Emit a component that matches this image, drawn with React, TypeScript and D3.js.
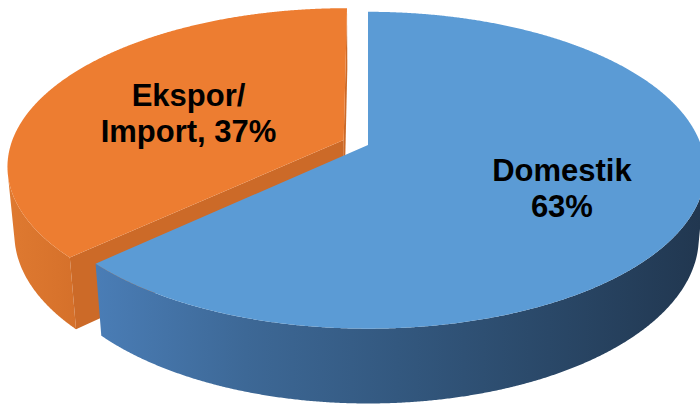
import React from "react";
import * as d3 from "d3";

// ---- data ----
const categories: string[] = ["Domestik", "Ekspor/Import"];
const values: number[] = [63, 37];

// ---- style / layout ----
const topColors = ["#5B9BD5", "#ED7D31"];
const wallStops = [
  ["#4a7db6", "#3d6896", "#33587f", "#2a4868", "#213750"],
  ["#df7a31", "#d8732c", "#cf6b27"],
];
const radialColors = ["#2f5278", "#cc6a28"];
const W = 700;
const H = 404;
const CX = 368;
const CY = 145;
const SCALE = 333;
const SIN_T = 0.4637;
const COS_T = Math.sqrt(1 - SIN_T * SIN_T);
const DIST = 5.564;
const THICK = 0.23;
const EXPLODE = [0, 0.08];
const LABEL_R = [0.61, 0.53];
const FONT_SIZE = 31;
const LINE_H = 36;

function project(x: number, z: number, h: number): [number, number] {
  const yp = h * COS_T + z * SIN_T;
  const zp = z * COS_T - h * SIN_T;
  const f = DIST / (DIST + zp);
  return [CX + SCALE * x * f, CY - SCALE * yp * f];
}

function fmtLines(name: string, pct: number): string[] {
  if (name.includes("/")) {
    const [a, b] = name.split("/");
    return [a + "/", `${b}, ${pct}%`];
  }
  return [name, `${pct}%`];
}

const camZ = -DIST * COS_T;

export default function App() {
  const pie = d3.pie<number>().sort(null).startAngle(0).endAngle(2 * Math.PI);
  const arcs = pie(values);
  const total = d3.sum(values);
  const line = d3.line<[number, number]>();

  const slices = arcs.map((a, i) => {
    const mid = (a.startAngle + a.endAngle) / 2;
    const ox = EXPLODE[i] * Math.sin(mid);
    const oz = EXPLODE[i] * Math.cos(mid);
    const n = Math.max(8, Math.ceil(((a.endAngle - a.startAngle) * 180) / Math.PI * 4));
    const angles = d3.range(n + 1).map((k) => a.startAngle + ((a.endAngle - a.startAngle) * k) / n);
    const rimTop = angles.map((t) => project(Math.sin(t) + ox, Math.cos(t) + oz, 0));
    const rimBot = angles.map((t) => project(Math.sin(t) + ox, Math.cos(t) + oz, -THICK));
    const cTop = project(ox, oz, 0);
    const cBot = project(ox, oz, -THICK);

    const topPath = line([cTop, ...rimTop]) + "Z";

    // visible outer wall runs
    const vis = angles.map((t) => {
      const px = Math.sin(t) + ox;
      const pz = Math.cos(t) + oz;
      return Math.sin(t) * (0 - px) + Math.cos(t) * (camZ - pz) > 0;
    });
    const wallPaths: string[] = [];
    let k = 0;
    while (k < angles.length) {
      if (!vis[k]) { k++; continue; }
      let j = k;
      while (j + 1 < angles.length && vis[j + 1]) j++;
      if (j > k) {
        const pts = [...rimTop.slice(k, j + 1), ...rimBot.slice(k, j + 1).reverse()];
        wallPaths.push(line(pts as [number, number][]) + "Z");
      }
      k = j + 1;
    }

    // radial faces
    const radialPaths: string[] = [];
    const faces: [number, number, number][] = [
      [a.startAngle, -Math.cos(a.startAngle), Math.sin(a.startAngle)],
      [a.endAngle, Math.cos(a.endAngle), -Math.sin(a.endAngle)],
    ];
    faces.forEach(([t, nx, nz]) => {
      const dot = nx * (0 - ox) + nz * (camZ - oz);
      if (dot > 1e-6) {
        const rT = project(Math.sin(t) + ox, Math.cos(t) + oz, 0);
        const rB = project(Math.sin(t) + ox, Math.cos(t) + oz, -THICK);
        radialPaths.push(line([cTop, rT, rB, cBot]) + "Z");
      }
    });

    const wallXs = wallPaths.length ? rimBot.concat(rimTop).map((p) => p[0]) : [0, 1];
    const depth = oz + Math.cos(mid) * 0.5;

    const lr = LABEL_R[i];
    const lp = project(lr * Math.sin(mid) + ox, lr * Math.cos(mid) + oz, 0);
    const pct = Math.round((values[i] / total) * 100);
    const lines = fmtLines(categories[i], pct);

    return {
      i, topPath, wallPaths, radialPaths, depth, lp, lines,
      wx0: d3.min(wallXs.filter((_, idx) => true)) as number,
      wx1: d3.max(wallXs) as number,
    };
  });

  const order = [...slices].sort((a, b) => b.depth - a.depth);

  return (
    <svg
      width={W}
      height={H}
      style={{ position: "absolute", left: 0, top: 0, background: "#fff" }}
      fontFamily="'Liberation Sans', Arial, sans-serif"
    >
      <defs>
        {slices.map((s) => (
          <linearGradient
            key={s.i}
            id={`wall${s.i}`}
            gradientUnits="userSpaceOnUse"
            x1={s.i === 0 ? 95 : 5}
            x2={s.i === 0 ? 700 : 110}
            y1={0}
            y2={0}
          >
            {wallStops[s.i].map((c, k) => (
              <stop key={k} offset={k / (wallStops[s.i].length - 1)} stopColor={c} />
            ))}
          </linearGradient>
        ))}
      </defs>
      {order.map((s) => (
        <g key={"side" + s.i}>
          {s.wallPaths.map((d, k) => (
            <path key={"w" + k} d={d} fill={`url(#wall${s.i})`} />
          ))}
          {s.radialPaths.map((d, k) => (
            <path key={"r" + k} d={d} fill={radialColors[s.i]} />
          ))}
        </g>
      ))}
      {order.map((s) => (
        <path key={"top" + s.i} d={s.topPath} fill={topColors[s.i]} />
      ))}
      {slices.map((s) => (
        <text
          key={"lbl" + s.i}
          x={s.lp[0]}
          textAnchor="middle"
          fontSize={FONT_SIZE}
          fontWeight="bold"
          fill="#000"
        >
          {s.lines.map((t, k) => (
            <tspan
              key={k}
              x={s.lp[0]}
              y={s.lp[1] + 4 + (k - (s.lines.length - 1) / 2) * LINE_H + 0.36 * FONT_SIZE}
            >
              {t}
            </tspan>
          ))}
        </text>
      ))}
    </svg>
  );
}
